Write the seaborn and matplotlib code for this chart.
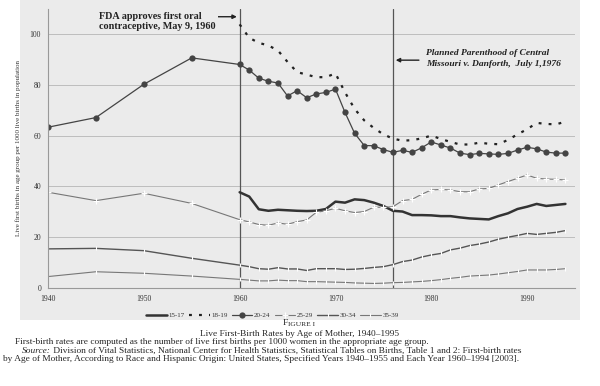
import numpy as np
import pandas as pd
import matplotlib
matplotlib.use("Agg")
import matplotlib.pyplot as plt
from matplotlib.patches import Rectangle
import seaborn as sns

# -------------------------
# Data
# -------------------------
years_early = [1940, 1945, 1950, 1955]
years_late = [1960, 1961, 1962, 1963, 1964, 1965, 1966, 1967, 1968, 1969,
              1970, 1971, 1972, 1973, 1974, 1975, 1976, 1977, 1978, 1979,
              1980, 1981, 1982, 1983, 1984, 1985, 1986, 1987, 1988, 1989,
              1990, 1991, 1992, 1993, 1994]
years_all = years_early + years_late

age_15_17 = [37.7, 36.0, 31.0, 30.4, 30.8, 30.6, 30.4, 30.3, 30.4, 31.1,
             34.0, 33.6, 34.9, 34.6, 33.6, 32.3, 30.4, 30.1, 28.7, 28.7,
             28.6, 28.3, 28.3, 27.8, 27.4, 27.2, 27.0, 28.3, 29.4, 31.1,
             32.0, 33.1, 32.3, 32.7, 33.1]

age_18_19 = [103.8, 98.5, 96.5, 95.5, 93.5, 89.0, 85.0, 84.0, 83.0, 83.0,
             84.5, 77.0, 70.5, 66.0, 63.0, 60.5, 58.8, 58.0, 58.2, 58.9,
             60.0, 58.7, 57.5, 56.5, 56.5, 57.2, 56.8, 56.6, 58.3, 60.5,
             62.5, 65.0, 64.6, 64.4, 65.5]

age_20_24 = [63.3, 67.1, 80.2, 90.6,
             88.0, 85.8, 82.6, 81.4, 80.7, 75.6, 77.7, 74.9, 76.4, 77.0,
             78.3, 69.1, 60.9, 56.1, 56.0, 54.5, 53.4, 54.2, 53.4, 55.2,
             57.5, 56.3, 55.1, 53.1, 52.5, 53.0, 52.8, 52.6, 53.0, 54.3,
             55.4, 54.8, 53.5, 53.1, 53.1]

age_25_29 = [37.7, 34.4, 37.3, 33.3,
             26.9, 26.0, 25.0, 24.7, 25.6, 25.1, 26.1, 26.8, 29.8, 30.4,
             31.4, 30.4, 29.7, 30.1, 31.8, 31.8, 32.0, 34.4, 34.9, 36.9,
             38.6, 38.8, 38.6, 37.9, 37.9, 39.0, 39.2, 40.6, 41.9, 43.2,
             44.5, 43.2, 42.9, 42.8, 42.5]

age_30_34 = [15.4, 15.6, 14.7, 11.7,
             9.0, 8.4, 7.6, 7.4, 8.0, 7.5, 7.5, 6.9, 7.6, 7.6,
             7.6, 7.3, 7.4, 7.7, 8.1, 8.4, 9.2, 10.4, 11.0, 12.2,
             13.0, 13.6, 15.0, 15.7, 16.7, 17.3, 18.1, 19.2, 20.0, 20.7,
             21.5, 21.1, 21.5, 21.9, 22.6]

age_35_39 = [4.5, 6.4, 5.8, 4.7,
             3.4, 3.1, 2.8, 2.8, 3.1, 2.9, 2.9, 2.5, 2.5, 2.4,
             2.3, 2.2, 2.0, 1.9, 1.8, 1.9, 2.1, 2.2, 2.4, 2.6,
             2.9, 3.3, 3.8, 4.2, 4.7, 4.9, 5.1, 5.5, 6.0, 6.5,
             7.1, 7.1, 7.1, 7.3, 7.6]

event_years = [1960, 1976]

# -------------------------
# Plot
# -------------------------
sns.set_theme(style="white")
plt.rcParams["font.family"] = ["Liberation Serif", "DejaVu Serif"]

bg = "#ebebeb"
fig = plt.figure(figsize=(6.0, 3.86), dpi=100)
fig.patch.set_facecolor("white")
fig.add_artist(Rectangle((20 / 600, 1 - 320 / 386), 560 / 600, 320 / 386,
                         transform=fig.transFigure, facecolor=bg,
                         edgecolor="none", zorder=-10))

ax = fig.add_axes([48 / 600, 1 - 288 / 386, 527 / 600, 279.4 / 386])
ax.set_facecolor("none")

sns.lineplot(x=years_late, y=age_15_17, ax=ax, color="#333333", lw=1.8,
             label="15-17")
sns.lineplot(x=years_late, y=age_18_19, ax=ax, color="#222222", lw=1.6,
             linestyle=(0, (1.3, 3.2)), label="18-19")
sns.lineplot(x=years_all, y=age_20_24, ax=ax, color="#444444", lw=0.9,
             marker="o", markersize=4.5, markeredgewidth=0, label="20-24")
sns.lineplot(x=years_all, y=age_25_29, ax=ax, color="#777777", lw=0.8,
             marker="+", markersize=5, markeredgewidth=0.8, label="25-29")
sns.lineplot(x=years_all, y=age_30_34, ax=ax, color="#555555", lw=1.0,
             marker="|", markersize=2.5, markeredgewidth=0.8, label="30-34")
sns.lineplot(x=years_all, y=age_35_39, ax=ax, color="#777777", lw=0.8,
             marker="|", markersize=2.5, markeredgewidth=0.8, label="35-39")

for yr in event_years:
    ax.axvline(yr, color="#555555", lw=0.9, zorder=1)

ax.set_xlim(1940, 1995)
ax.set_ylim(0, 110)
ax.set_xticks([1940, 1950, 1960, 1970, 1980, 1990])
ax.set_yticks([0, 20, 40, 60, 80, 100])
ax.yaxis.grid(True, color="#bdbdbd", lw=0.7)
ax.set_axisbelow(True)
ax.tick_params(labelsize=5.5, colors="#333333", length=2, width=0.6, pad=3)
for s in ["top", "right"]:
    ax.spines[s].set_visible(False)
for s in ["left", "bottom"]:
    ax.spines[s].set_color("#999999")
    ax.spines[s].set_linewidth(0.8)
ax.set_ylabel("Live first births in age group per 1000 live births in population",
              fontsize=5, color="#333333", labelpad=6)
ax.set_xlabel("")

# annotations
ax.annotate("", xy=(1960, 106.8), xytext=(1956.3, 106.8),
            arrowprops=dict(arrowstyle="-|>", color="#222222", lw=1.0,
                            mutation_scale=6))
ax.text(1945.3, 108.5, "FDA approves first oral\ncontraceptive, May 9, 1960",
        fontsize=7.3, fontweight="bold", color="#222222", va="top", ha="left",
        linespacing=1.1, bbox=dict(facecolor=bg, edgecolor="none", pad=1.5))
ax.annotate("", xy=(1976, 89.7), xytext=(1979.0, 89.7),
            arrowprops=dict(arrowstyle="-|>", color="#222222", lw=1.0,
                            mutation_scale=6))
ax.text(1979.5, 94.0, "Planned Parenthood of Central\nMissouri v. Danforth,  July 1,1976",
        fontsize=6.8, fontweight="bold", fontstyle="italic", color="#222222",
        va="top", ha="left", linespacing=1.4)

# legend
handles, labels = ax.get_legend_handles_labels()
ax.get_legend().remove()
fig.legend(handles, labels, loc="center", bbox_to_anchor=(0.454, 1 - 315 / 386),
           ncol=6, frameon=False, fontsize=5, handlelength=3.0,
           handletextpad=0.2, columnspacing=0.6, labelcolor="#333333")

# captions
cap = 6.75
t_f = fig.text(283 / 600, 1 - 325 / 386, "F", ha="left", va="baseline", fontsize=6.8)
plt.annotate("IGURE I", xy=(1, 0), xycoords=t_f, ha="left", va="bottom",
             fontsize=5.4, annotation_clip=False)
fig.text(0.5, 1 - 334 / 386, "Live First-Birth Rates by Age of Mother, 1940\u20131995",
         ha="center", va="center", fontsize=cap)
fig.text(15 / 600, 1 - 342.5 / 386,
         "First-birth rates are computed as the number of live first births per 1000 women in the appropriate age group.",
         ha="left", va="center", fontsize=cap)
t_src = fig.text(22 / 600, 1 - 351 / 386, "Source:", ha="left", va="center",
                 fontsize=cap, fontstyle="italic")
plt.annotate(" Division of Vital Statistics, National Center for Health Statistics, "
             "Statistical Tables on Births, Table 1 and 2: First-birth rates",
             xy=(1, 0.5), xycoords=t_src, ha="left", va="center", fontsize=cap,
             annotation_clip=False)
fig.text(3 / 600, 1 - 359 / 386,
         "by Age of Mother, According to Race and Hispanic Origin: United States, "
         "Specified Years 1940\u20131955 and Each Year 1960\u20131994 [2003].",
         ha="left", va="center", fontsize=cap)

fig.savefig("out.png", dpi=100)
